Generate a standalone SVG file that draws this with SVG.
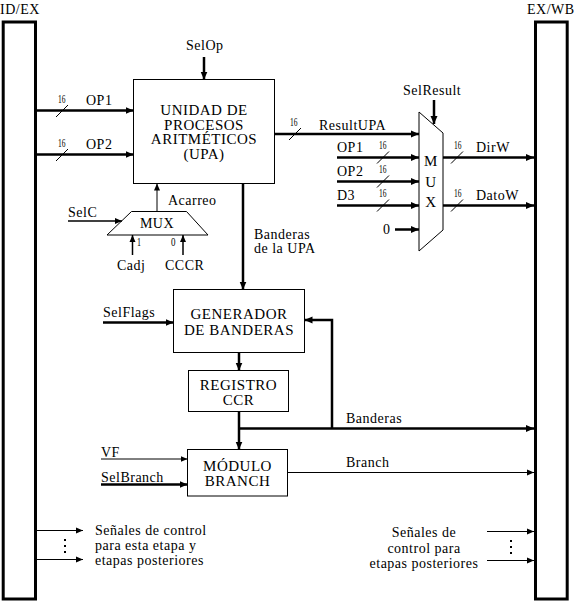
<svg xmlns="http://www.w3.org/2000/svg" width="575" height="604" viewBox="0 0 575 604" font-family="'Liberation Serif', 'DejaVu Serif', serif">
<style>
text{font-family:'Liberation Serif','DejaVu Serif',serif;font-size:14px;letter-spacing:0.5px;fill:#000}
.b{font-size:15px;text-anchor:middle}
.m{text-anchor:middle}
.n{font-size:13px;letter-spacing:0}
.box{fill:#fff;stroke:#000;stroke-width:1}
.reg{fill:#fff;stroke:#000;stroke-width:3}
.k{fill:none;stroke:#000;stroke-width:2.5}
.t{fill:none;stroke:#000;stroke-width:1}
.s{fill:none;stroke:#000;stroke-width:1.5}
.sl{fill:none;stroke:#000;stroke-width:1}
</style>
<defs>
<marker id="a" markerUnits="userSpaceOnUse" markerWidth="9" markerHeight="8" refX="8" refY="4" orient="auto"><path d="M0,0.5 L8,4 L0,7.5 z" fill="#000"/></marker>
<marker id="as" markerUnits="userSpaceOnUse" markerWidth="8" markerHeight="7" refX="7" refY="3.5" orient="auto"><path d="M0,0.5 L7,3.5 L0,6.5 z" fill="#000"/></marker>
</defs>
<rect width="575" height="604" fill="#fff"/>

<g id="idex">
<rect class="reg" x="3.2" y="22" width="32.3" height="577"/>
<text x="0" y="13.5">ID/EX</text>
</g>
<g id="exwb">
<rect class="reg" x="535.5" y="22" width="31.7" height="577"/>
<text x="527" y="13.5">EX/WB</text>
</g>

<g id="upa">
<rect class="box" x="133.5" y="79.5" width="141" height="104"/>
<text class="b" x="204" y="115">UNIDAD DE</text>
<text class="b" x="204" y="129.5">PROCESOS</text>
<text class="b" x="204" y="144">ARITMÉTICOS</text>
<text class="b" x="204" y="158.5">(UPA)</text>
</g>

<g id="muxc">
<polygon class="box" points="131.5,211.5 186.5,211.5 208,235 107,235"/>
<text class="m" x="157" y="228">MUX</text>
</g>

<g id="muxr">
<polygon class="box" points="419,112 443,133 443,230 419,251"/>
<text class="b" x="431" y="166">M</text>
<text class="b" x="431" y="187">U</text>
<text class="b" x="431" y="207">X</text>
</g>

<g id="generador">
<rect class="box" x="173.5" y="289.5" width="131" height="63"/>
<text class="b" x="239" y="319">GENERADOR</text>
<text class="b" x="239" y="335">DE BANDERAS</text>
</g>

<g id="registro">
<rect class="box" x="188.5" y="370.5" width="100" height="41"/>
<text class="b" x="238.5" y="390">REGISTRO</text>
<text class="b" x="238.5" y="404.5">CCR</text>
</g>

<g id="modulo">
<rect class="box" x="187.5" y="449.5" width="100" height="46.5"/>
<text class="b" x="237.5" y="471">MÓDULO</text>
<text class="b" x="237.5" y="486">BRANCH</text>
</g>

<g id="connectors">
<line class="k" x1="204" y1="57" x2="204" y2="79.5" marker-end="url(#a)"/>
<line class="k" x1="37" y1="110.5" x2="133.5" y2="110.5" marker-end="url(#a)"/>
<line class="sl" x1="56" y1="117" x2="68" y2="105"/>
<line class="k" x1="37" y1="154.5" x2="133.5" y2="154.5" marker-end="url(#a)"/>
<line class="sl" x1="56" y1="161" x2="68" y2="149"/>
<line class="k" x1="274.5" y1="134" x2="419" y2="134" marker-end="url(#a)"/>
<line class="sl" x1="289" y1="140" x2="301" y2="128"/>
<line class="k" x1="434" y1="100" x2="434" y2="124" marker-end="url(#a)"/>
<line class="k" x1="337" y1="157.5" x2="419" y2="157.5" marker-end="url(#a)"/>
<line class="sl" x1="377" y1="163.5" x2="389" y2="151.5"/>
<line class="k" x1="337" y1="181.5" x2="419" y2="181.5" marker-end="url(#a)"/>
<line class="sl" x1="377" y1="187.5" x2="389" y2="175.5"/>
<line class="k" x1="337" y1="205.5" x2="419" y2="205.5" marker-end="url(#a)"/>
<line class="sl" x1="377" y1="211.5" x2="389" y2="199.5"/>
<line class="k" x1="395" y1="229.5" x2="419" y2="229.5" marker-end="url(#a)"/>
<line class="k" x1="443" y1="157.5" x2="534" y2="157.5" marker-end="url(#a)"/>
<line class="sl" x1="451" y1="163.5" x2="463" y2="151.5"/>
<line class="k" x1="443" y1="205.5" x2="534" y2="205.5" marker-end="url(#a)"/>
<line class="sl" x1="451" y1="211.5" x2="463" y2="199.5"/>
<line class="t" x1="157" y1="211.5" x2="157" y2="183.5" marker-end="url(#as)"/>
<line class="s" x1="68" y1="221" x2="122" y2="221" marker-end="url(#as)"/>
<line class="s" x1="132.5" y1="255" x2="132.5" y2="235" marker-end="url(#as)"/>
<line class="s" x1="183" y1="255" x2="183" y2="235" marker-end="url(#as)"/>
<line class="k" x1="243" y1="183.5" x2="243" y2="289.5" marker-end="url(#a)"/>
<line class="k" x1="103" y1="322.5" x2="173.5" y2="322.5" marker-end="url(#a)"/>
<line class="k" x1="239" y1="352.5" x2="239" y2="370.5" marker-end="url(#a)"/>
<line class="k" x1="239" y1="411.5" x2="239" y2="449.5" marker-end="url(#a)"/>
<line class="k" x1="239" y1="428.5" x2="534" y2="428.5" marker-end="url(#a)"/>
<polyline class="k" points="332,428.5 332,320 304.5,320" marker-end="url(#a)"/>
<line class="t" x1="101" y1="459" x2="187.5" y2="459" marker-end="url(#as)"/>
<line class="k" x1="101" y1="484.5" x2="187.5" y2="484.5" marker-end="url(#a)"/>
<line class="t" x1="287.5" y1="472.5" x2="534" y2="472.5" marker-end="url(#as)"/>
<line class="t" x1="37" y1="530.5" x2="83" y2="530.5" marker-end="url(#as)"/>
<line class="t" x1="37" y1="559.5" x2="83" y2="559.5" marker-end="url(#as)"/>
<line class="t" x1="487" y1="531.5" x2="534" y2="531.5" marker-end="url(#as)"/>
<line class="t" x1="487" y1="560.5" x2="534" y2="560.5" marker-end="url(#as)"/>
</g>

<g id="labels">
<text x="186" y="50">SelOp</text>
<text class="n" x="58" y="103" textLength="7.5" lengthAdjust="spacingAndGlyphs">16</text>
<text x="86" y="105">OP1</text>
<text class="n" x="58" y="147" textLength="7.5" lengthAdjust="spacingAndGlyphs">16</text>
<text x="86" y="149">OP2</text>
<text class="n" x="290" y="126" textLength="7.5" lengthAdjust="spacingAndGlyphs">16</text>
<text x="319" y="130">ResultUPA</text>
<text x="403" y="95">SelResult</text>
<text x="337" y="152">OP1</text>
<text class="n" x="379" y="149" textLength="7.5" lengthAdjust="spacingAndGlyphs">16</text>
<text x="337" y="176">OP2</text>
<text class="n" x="379" y="173" textLength="7.5" lengthAdjust="spacingAndGlyphs">16</text>
<text x="337" y="200">D3</text>
<text class="n" x="379" y="197" textLength="7.5" lengthAdjust="spacingAndGlyphs">16</text>
<text x="383" y="234">0</text>
<text class="n" x="454" y="149" textLength="7.5" lengthAdjust="spacingAndGlyphs">16</text>
<text x="476" y="152">DirW</text>
<text class="n" x="454" y="197" textLength="7.5" lengthAdjust="spacingAndGlyphs">16</text>
<text x="476" y="200">DatoW</text>
<text x="168" y="205">Acarreo</text>
<text x="68" y="216.5">SelC</text>
<text class="n" x="137" y="246" textLength="4" lengthAdjust="spacingAndGlyphs">1</text>
<text class="n" x="171" y="246" textLength="4.5" lengthAdjust="spacingAndGlyphs">0</text>
<text x="117" y="270">Cadj</text>
<text x="165" y="270">CCCR</text>
<text x="254" y="239">Banderas</text>
<text x="254" y="253">de la UPA</text>
<text x="103" y="317">SelFlags</text>
<text x="346" y="423">Banderas</text>
<text x="101" y="456.5">VF</text>
<text x="101" y="481.5">SelBranch</text>
<text x="346" y="467">Branch</text>
<text x="95" y="534.5">Señales de control</text>
<text x="95" y="549.5">para esta etapa y</text>
<text x="95" y="565">etapas posteriores</text>
<text class="m" x="424" y="536.5">Señales de</text>
<text class="m" x="424" y="552.5">control para</text>
<text class="m" x="424" y="568">etapas posteriores</text>
<g fill="#000">
<rect x="64" y="539" width="2" height="2"/><rect x="64" y="545" width="2" height="2"/><rect x="64" y="551" width="2" height="2"/>
<rect x="510" y="540" width="2" height="2"/><rect x="510" y="546" width="2" height="2"/><rect x="510" y="552" width="2" height="2"/>
</g>
</g>
</svg>
